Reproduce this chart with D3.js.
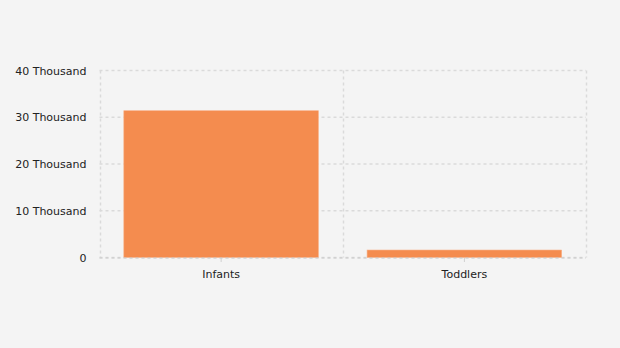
<!DOCTYPE html>
<html>
<head>
<meta charset="utf-8">
<script src="https://cdn.jsdelivr.net/npm/d3@7"></script>
<style>
  body { margin: 0; background: #f4f4f4; }
  svg { display: block; }
  .grid line { stroke: #dadada; stroke-dasharray: 3,3; stroke-width: 1.5; }
  .axis text { font-family: "DejaVu Sans", sans-serif; font-size: 11px; fill: #222; }
  .axis path { display: none; }
</style>
</head>
<body>
<svg id="chart" width="620" height="348"></svg>
<script>
const categories = ['Infants', 'Toddlers']
const values = [31400, 1600]
const yTicks = [0, 10000, 20000, 30000, 40000]
const yTickLabels = ['0', '10 Thousand', '20 Thousand', '30 Thousand', '40 Thousand']

const svg = d3.select('#chart')

svg.append('rect')
    .attr('width', 620)
    .attr('height', 348)
    .attr('fill', '#f4f4f4')

const xScale = d3.scaleBand().domain(categories).range([99.5, 586]).paddingInner(0).paddingOuter(0)
const yScale = d3.scaleLinear().domain([0, 40000]).range([257.5, 70.5])

// horizontal grid
svg.append('g')
    .classed('grid', true)
    .selectAll('line')
    .data(yTicks)
    .enter()
    .append('line')
    .attr('x1', 99.5)
    .attr('x2', 586)
    .attr('y1', d => yScale(d))
    .attr('y2', d => yScale(d))

// vertical grid at band edges
const edges = categories.map(c => xScale(c)).concat([xScale.range()[1]])
svg.append('g')
    .classed('grid', true)
    .selectAll('line')
    .data(edges)
    .enter()
    .append('line')
    .attr('x1', d => Math.round(d) + 0.5)
    .attr('x2', d => Math.round(d) + 0.5)
    .attr('y1', 70.5)
    .attr('y2', 257.5)

// bars
const barPad = 0.1
svg.selectAll('.bar')
    .data(categories)
    .enter()
    .append('rect')
    .classed('bar', true)
    .attr('x', (d) => xScale(d) + xScale.bandwidth() * barPad)
    .attr('width', xScale.bandwidth() * (1 - 2 * barPad))
    .attr('y', (d, i) => yScale(values[i]))
    .attr('height', (d, i) => yScale(0) - yScale(values[i]))
    .attr('fill', '#f48c4f')
    .attr('stroke', '#f8b189')
    .attr('stroke-width', 0.6)

// bottom axis line (dashed like grid)
svg.append('line')
    .attr('x1', 99.5)
    .attr('x2', 586)
    .attr('y1', 258)
    .attr('y2', 258)
    .attr('stroke', '#c8c8c8')
    .attr('stroke-dasharray', '3,3')

// y labels
const yAxis = d3.axisLeft(yScale)
    .tickValues(yTicks)
    .tickFormat((d, i) => yTickLabels[i])
    .tickSize(0)
    .tickPadding(13)
svg.append('g')
    .classed('axis', true)
    .attr('transform', 'translate(99.5,0)')
    .call(yAxis)

// x labels
const xAxis = d3.axisBottom(xScale)
    .tickSize(4)
    .tickPadding(8)
const xg = svg.append('g')
    .classed('axis', true)
    .attr('transform', 'translate(0,258)')
    .call(xAxis)
xg.selectAll('.tick line').attr('stroke', '#d0d0d0')
</script>
</body>
</html>
